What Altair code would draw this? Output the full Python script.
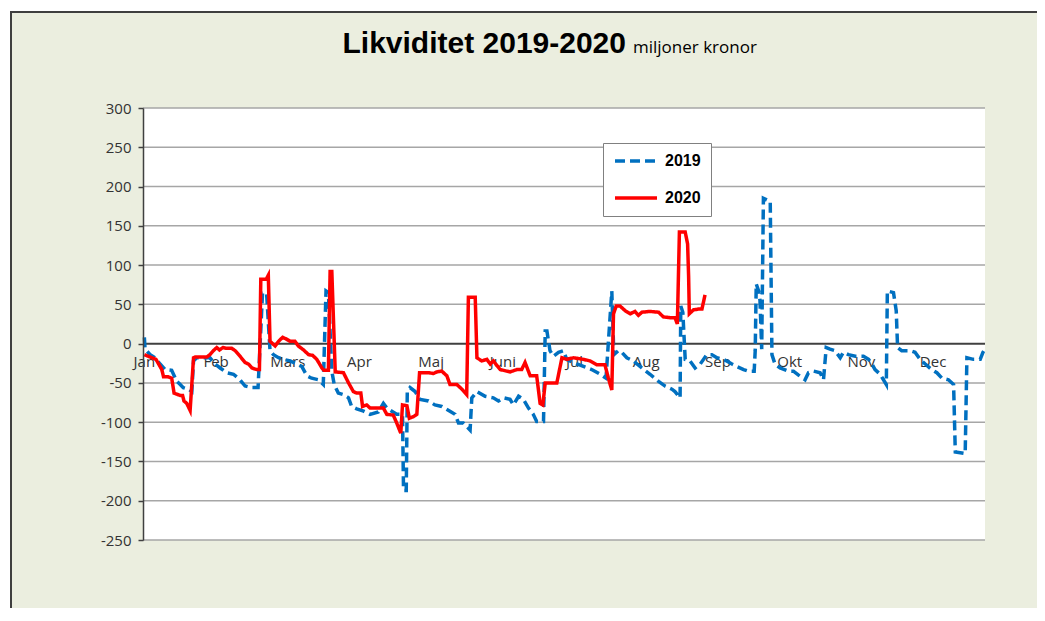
import altair as alt
import pandas as pd

# ---- data -------------------------------------------------------------
months = ["Jan", "Feb", "Mars", "Apr", "Maj", "Juni", "Jul", "Aug", "Sep", "Okt", "Nov", "Dec"]
month_start_day = [0, 21, 42, 63, 84, 105, 126, 147, 168, 189, 210, 231]
y_ticks = [-250, -200, -150, -100, -50, 0, 50, 100, 150, 200, 250, 300]
series_names = ["2019", "2020"]

day_2019 = [0, 0.2, 1.7, 3.1, 4.6, 6.1, 8.0, 9.5, 10.5, 11.4, 12.9, 13.9, 14.4, 15.3, 19.2, 20.7, 22.2,
            24.1, 26.1, 28.0, 29.5, 31.4, 33.3, 34.6, 35.8, 36.8, 37.8, 39.3, 40.7, 42.7, 44.6, 46.1,
            47.6, 49.0, 51.0, 52.4, 53.2, 53.9, 54.9, 55.6, 56.8, 58.3, 59.8, 60.7, 62.2, 64.2, 66.1,
            68.5, 70.0, 71.0, 73.9, 75.6, 75.9, 76.7, 77.0, 77.8, 79.3, 80.8, 83.2, 85.1, 87.1, 89.5,
            91.0, 92.0, 93.4, 95.4, 95.9, 97.4, 99.8, 102.2, 103.7, 105.2, 107.1, 108.1, 109.6, 111.0,
            112.5, 113.9, 114.9, 116.9, 117.4, 117.9, 118.8, 119.8, 121.3, 122.7, 123.7, 125.7, 128.6,
            131.0, 133.5, 135.2, 136.9, 137.5, 138.8, 139.8, 141.3, 143.2, 145.7, 148.1, 150.6, 152.5,
            154.5, 155.4, 156.9, 157.1, 157.7, 158.4, 159.8, 161.3, 162.8, 164.7, 166.2, 167.7, 169.6,
            172.1, 173.5, 175.5, 176.9, 178.6, 178.9, 179.2, 179.9, 180.3, 180.8, 181.3, 183.3, 183.8,
            184.7, 186.2, 188.6, 190.1, 191.6, 193.5, 194.5, 196.0, 197.9, 198.9, 199.7, 200.8, 202.3,
            203.8, 204.7, 206.2, 208.2, 210.6, 212.1, 213.1, 214.0, 215.5, 217.3, 217.6, 219.4, 220.2,
            220.6, 221.8, 224.3, 225.7, 227.2, 228.7, 230.6, 232.1, 233.6, 235.5, 237.0, 237.5, 240.4,
            240.9, 242.8, 244.8, 245.6, 246.2]
val_2019 = [8, -7, -14, -18, -26, -33, -34, -48, -52, -56, -58, -61, -22, -18, -18, -26, -31,
            -37, -39, -46, -54, -56, -56, 64, 64, -9, -14, -18, -20, -22, -26, -29,
            -41, -44, -46, -52, 67, 65, -35, -52, -63, -65, -69, -80, -83, -86, -90,
            -87, -76, -82, -90, -90, -187, -187, -61, -56, -61, -71, -73, -78, -80, -86,
            -90, -101, -101, -110, -69, -61, -67, -69, -73, -69, -71, -78, -67, -71,
            -82, -90, -99, -99, 16, 16, -9, -16, -11, -9, -20, -24, -29,
            -33, -39, -44, 67, -14, -9, -11, -18, -22, -31, -39, -48, -54,
            -58, -61, -69, 48, 40, -20, -22, -31, -26, -14, -14, -18, -20,
            -26, -29, -33, -35, -35, -9, 76, 67, 55, -7, 185, 181, -14,
            -26, -31, -35, -35, -40, -46, -37, -35, -37, -46, -5, -7, -9,
            -18, -11, -14, -16, -16, -20, -26, -33, -39, -52, 67, 65, 42,
            -5, -9, -9, -11, -20, -26, -33, -37, -44, -46, -52, -138, -140,
            -18, -20, -20, -11, -7]

day_2020 = [0, 3.4, 5.1, 5.6, 6.8, 8.0, 8.7, 10.5, 11.2, 11.6, 12.4, 13.4, 14.4, 14.9, 18.3, 19.2,
            20.2, 21.2, 22.0, 23.0, 24.1, 25.6, 26.6, 28.0, 29.5, 30.5, 31.5, 32.9, 33.7, 34.1, 35.7,
            36.3, 36.8, 38.3, 39.3, 40.5, 41.5, 42.7, 44.1, 45.1, 46.6, 48.1, 49.3, 50.5, 52.0, 52.6,
            53.9, 54.4, 54.9, 55.9, 58.3, 59.8, 61.2, 62.2, 63.4, 63.9, 65.1, 66.1, 70.0, 71.0, 72.9,
            73.9, 75.1, 75.6, 76.9, 77.6, 78.8, 79.8, 80.6, 83.2, 84.7, 85.6, 87.1, 88.6, 89.5, 91.5,
            93.0, 94.4, 94.9, 96.9, 97.4, 98.8, 100.3, 101.3, 102.2, 104.2, 107.1, 109.1, 110.5, 111.5,
            113.0, 114.9, 115.9, 116.7, 117.4, 120.8, 122.3, 123.7, 125.7, 128.6, 130.5, 132.5, 134.9,
            135.9, 136.9, 137.4, 138.2, 139.3, 140.8, 142.3, 143.7, 144.7, 145.7, 148.1, 150.6, 152.0,
            154.0, 155.4, 156.1, 156.7, 158.4, 159.1, 159.4, 159.6, 160.8, 162.3, 163.3, 164.2]
val_2020 = [-14, -20, -33, -42, -42, -44, -63, -66, -66, -73, -76, -85, -18, -17, -17, -14,
            -9, -5, -8, -5, -6, -6, -9, -16, -24, -26, -31, -33, -33, 82, 82,
            87, 3, -3, 3, 8, 6, 3, 3, -3, -8, -14, -15, -20, -31, -34,
            -34, 92, 92, -36, -37, -50, -61, -63, -63, -80, -78, -82, -82, -90, -91,
            -101, -114, -78, -79, -95, -93, -90, -37, -37, -38, -36, -35, -41, -52, -52,
            -58, -65, 59, 59, -18, -22, -20, -26, -22, -33, -36, -33, -33, -24,
            -41, -41, -76, -78, -50, -50, -18, -20, -18, -20, -22, -27, -27,
            -44, -59, 38, 48, 48, 42, 38, 41, 36, 40, 41, 40, 34,
            33, 33, 25, 142, 142, 127, 85, 38, 43, 44, 44, 62]

df = pd.concat([
    pd.DataFrame({"day": day_2019, "value": val_2019, "year": series_names[0]}),
    pd.DataFrame({"day": day_2020, "value": val_2020, "year": series_names[1]}),
], ignore_index=True)
df["idx"] = range(len(df))

month_df = pd.DataFrame({"day": month_start_day, "label": months, "value": [-23.5] * len(months)})
grid_df = pd.DataFrame({"value": [t for t in y_ticks if t != 0]})
zero_df = pd.DataFrame({"value": [0]})
one = pd.DataFrame({"a": [0]})

# ---- layout -----------------------------------------------------------
W, H = 842, 432
PAD = {"left": 135, "top": 100, "right": 52, "bottom": 68}
BEIGE = "#EBEEDF"
BORDER = "#3F3F3F"
FONT = "Open Sans"
FAR_R = W + PAD["right"] + 40
FAR_B = H + PAD["bottom"] + 40

xscale = alt.Scale(domain=[-0.4, 246.2], nice=False, zero=False)
yscale = alt.Scale(domain=[-250, 300], nice=False, zero=False)
yaxis = alt.Axis(values=y_ticks, grid=False, title=None, domainColor="#404040",
                 domainWidth=1.5, tickColor="#404040", tickWidth=1.5, tickSize=5,
                 labelFont=FONT, labelFontSize=15, labelColor="#333333",
                 labelPadding=7, zindex=1,
                 labelExpr="datum.value < 0 ? '-' + abs(datum.value) : '' + datum.value")
Y = alt.Y("value:Q", scale=yscale, axis=yaxis)
X = alt.X("day:Q", scale=xscale, axis=None)

frame = alt.Chart(one).mark_rect(fill=BEIGE).encode(
    x=alt.value(-132), x2=alt.value(FAR_R), y=alt.value(-96), y2=alt.value(FAR_B))

frame_top = alt.Chart(one).mark_rule(color=BORDER, strokeWidth=2).encode(
    x=alt.value(-133), x2=alt.value(FAR_R), y=alt.value(-96))

frame_left = alt.Chart(one).mark_rule(color=BORDER, strokeWidth=2).encode(
    x=alt.value(-132), y=alt.value(-97), y2=alt.value(FAR_B))

plot_bg = alt.Chart(one).mark_rect(fill="white").encode(
    x=alt.value(0), x2=alt.value(W), y=alt.value(0), y2=alt.value(H))

grid = alt.Chart(grid_df).mark_rule(color="#A6A6A6", strokeWidth=1.5).encode(
    y=Y, x=alt.value(0), x2=alt.value(W))

zero = alt.Chart(zero_df).mark_rule(color="#404040", strokeWidth=2).encode(
    y=Y, x=alt.value(0), x2=alt.value(W))

month_labels = alt.Chart(month_df).mark_text(
    font=FONT, fontSize=15, color="#333333", align="center", baseline="middle").encode(
    x=X, y=Y, text="label:N")

legend = alt.Legend(title=None, orient="none", legendX=460, legendY=35,
                    fillColor="white", strokeColor="#808080", padding=10,
                    symbolType="stroke", symbolSize=1764, symbolStrokeWidth=3.5,
                    labelFont="Liberation Sans", labelFontSize=16, labelFontWeight="bold",
                    labelColor="black", labelOffset=6, rowPadding=21, clipHeight=16)

lines = alt.Chart(df).mark_line(strokeWidth=3.5).encode(
    x=X, y=Y,
    color=alt.Color("year:N", scale=alt.Scale(domain=series_names, range=["#0070C0", "#FF0000"]),
                    legend=legend),
    strokeDash=alt.StrokeDash("year:N", scale=alt.Scale(domain=series_names, range=[[10, 5], [1, 0]]),
                              legend=legend),
    order="idx:Q")

title_main = alt.Chart(one).mark_text(
    text="Likviditet 2019-2020", font="Liberation Sans",
    fontSize=30, fontWeight="bold", color="black", align="right", baseline="alphabetic").encode(
    x=alt.value(483), y=alt.value(-55))

title_sub = alt.Chart(one).mark_text(
    text="miljoner kronor", font=FONT, fontSize=17, color="black",
    align="left", baseline="alphabetic").encode(
    x=alt.value(490), y=alt.value(-55))

chart = alt.layer(frame, frame_top, frame_left, plot_bg, grid, zero, month_labels, lines,
                  title_main, title_sub).properties(
    width=W, height=H, padding=PAD, autosize=alt.AutoSizeParams(type="none"), background="white"
).configure_view(strokeWidth=0)

chart.save("out.html", embed_options={"renderer": "svg", "actions": False})
